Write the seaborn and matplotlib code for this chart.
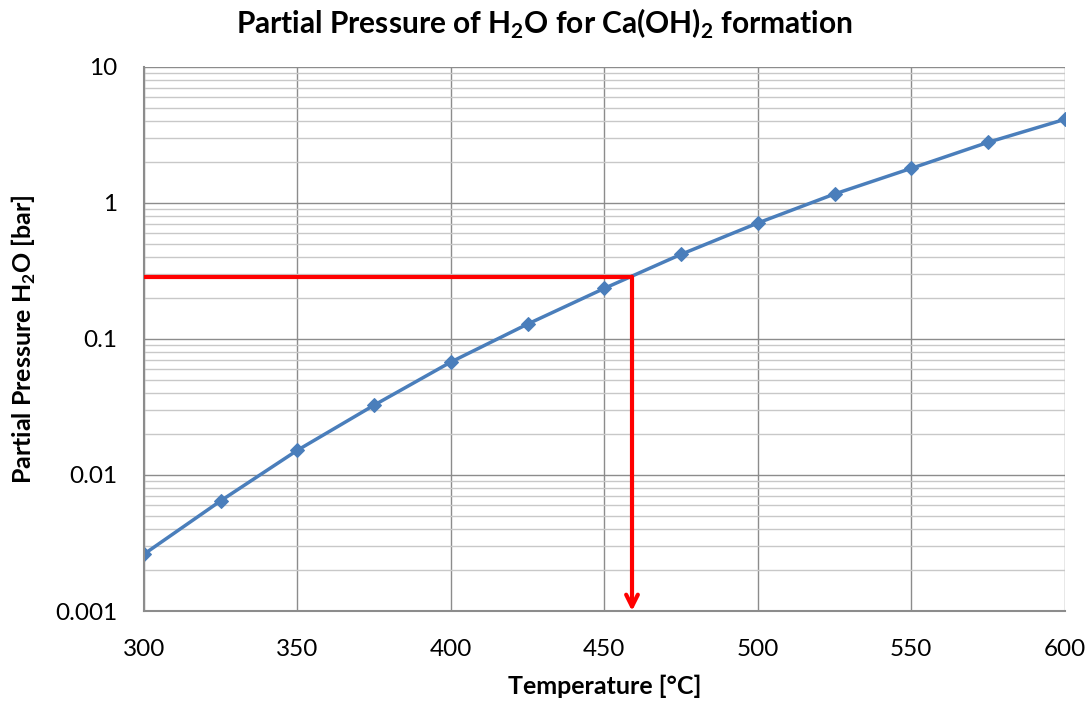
import numpy as np
import pandas as pd
import matplotlib
matplotlib.use("Agg")
import matplotlib.pyplot as plt
from matplotlib.ticker import LogLocator, FixedLocator, NullFormatter, FuncFormatter
import seaborn as sns

# Equilibrium water vapour pressure over Ca(OH)2 / CaO
temperature_c = [300, 325, 350, 375, 400, 425, 450, 475, 500, 525, 550, 575, 600]
pressure_bar = [0.00262, 0.00646, 0.0152, 0.0326, 0.0676, 0.1285, 0.235,
                0.418, 0.71, 1.16, 1.79, 2.78, 4.10]

# Operating point
op_pressure = 0.286
op_temperature = 459

x_ticks = [300, 350, 400, 450, 500, 550, 600]
y_ticks = [0.001, 0.01, 0.1, 1, 10]
y_tick_labels = ["0.001", "0.01", "0.1", "1", "10"]

sns.set_theme(style="white")
plt.rcParams["font.family"] = ["Lato", "DejaVu Sans"]
plt.rcParams["mathtext.fontset"] = "custom"
plt.rcParams["mathtext.rm"] = "Lato"
plt.rcParams["mathtext.bf"] = "Lato:bold"
plt.rcParams["text.color"] = "black"
plt.rcParams["axes.labelcolor"] = "black"

df = pd.DataFrame({"T": temperature_c, "p": pressure_bar})

fig = plt.figure(figsize=(10.88, 7.02), dpi=100)
ax = fig.add_axes([0.1324, 0.1296, 0.8462, 0.7754])

ax.set_yscale("log")
ax.set_xlim(300, 600)
ax.set_ylim(0.001, 10)

# Grid: major decades and every 50 °C, minor 2..9 per decade
ax.set_axisbelow(True)
ax.xaxis.set_major_locator(FixedLocator(x_ticks))
ax.yaxis.set_major_locator(FixedLocator(y_ticks))
ax.yaxis.set_major_formatter(FuncFormatter(lambda v, p: y_tick_labels[y_ticks.index(v)] if v in y_ticks else ""))
ax.yaxis.set_minor_locator(LogLocator(base=10, subs=np.arange(2, 10)))
ax.yaxis.set_minor_formatter(NullFormatter())
ax.grid(which="major", axis="both", color="#8c8c8c", linewidth=1.0)
ax.grid(which="minor", axis="y", color="#c8c8c8", linewidth=1.0)

sns.lineplot(data=df, x="T", y="p", ax=ax, color="#4a7ebb", linewidth=2.5,
             marker="D", markersize=7, markeredgecolor="#4a7ebb", legend=False)

# Red guide: horizontal to the curve, then down to the temperature axis
ax.plot([300, op_temperature], [op_pressure, op_pressure], color="#ff0000",
        linewidth=3, solid_capstyle="butt", zorder=4, clip_on=False)
ax.annotate("", xy=(op_temperature, 0.001), xytext=(op_temperature, op_pressure),
            arrowprops=dict(arrowstyle="->,head_length=0.7,head_width=0.35",
                            color="#ff0000", linewidth=3, shrinkA=0, shrinkB=0),
            zorder=4)

for side in ["top", "right"]:
    ax.spines[side].set_visible(False)
for side in ["left", "bottom"]:
    ax.spines[side].set_color("#8c8c8c")
    ax.spines[side].set_linewidth(1.5)

ax.tick_params(axis="both", which="major", direction="out", length=9, width=1,
               color="#8c8c8c", labelsize=17.5, labelcolor="black")
ax.tick_params(axis="y", which="major", pad=10)
ax.tick_params(axis="y", which="minor", length=0)
ax.tick_params(axis="x", which="major", pad=11)

ax.set_xlabel("Temperature [°C]", fontsize=18, fontweight="bold", labelpad=11)
ax.set_ylabel(r"Partial Pressure H$_\mathbf{2}$O [bar]", fontsize=18, fontweight="bold")
ax.yaxis.set_label_coords(-0.115, 0.5)
fig.suptitle(r"Partial Pressure of H$_\mathbf{2}$O for Ca(OH)$_\mathbf{2}$ formation",
             fontsize=21.5, fontweight="bold", x=0.5, y=0.99)

fig.savefig("out.png", dpi=100)
